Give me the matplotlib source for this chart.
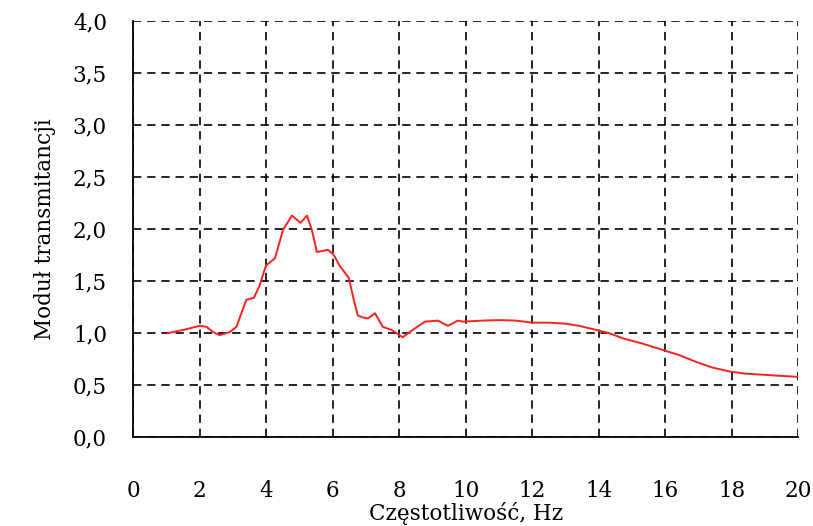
import matplotlib
matplotlib.use("Agg")
import matplotlib.pyplot as plt
import numpy as np

# frequency [Hz] and transmittance modulus
freq = [1.04, 1.5, 2.0, 2.2, 2.4, 2.6, 2.9, 3.1, 3.4, 3.63, 3.8, 3.99, 4.26,
        4.5, 4.77, 5.03, 5.22, 5.37, 5.52, 5.86, 6.03, 6.2, 6.48, 6.63, 6.75,
        6.9, 7.05, 7.27, 7.5, 7.77, 8.1, 8.4, 8.77, 9.16, 9.46, 9.76, 9.92,
        10.5, 11.0, 11.5, 12.0, 12.5, 13.0, 13.4, 13.8, 14.3, 14.72, 15.3,
        15.9, 16.4, 16.95, 17.4, 17.94, 18.4, 18.93, 19.4, 19.95]
modulus = [1.00, 1.03, 1.07, 1.06, 1.01, 0.98, 1.01, 1.06, 1.32, 1.34, 1.46,
           1.65, 1.72, 1.99, 2.13, 2.06, 2.13, 1.99, 1.78, 1.80, 1.75, 1.65,
           1.53, 1.32, 1.17, 1.15, 1.14, 1.19, 1.06, 1.03, 0.96, 1.03, 1.11,
           1.12, 1.07, 1.12, 1.11, 1.12, 1.125, 1.12, 1.10, 1.10, 1.09, 1.07,
           1.04, 1.00, 0.95, 0.90, 0.84, 0.79, 0.72, 0.67, 0.63, 0.61, 0.60,
           0.59, 0.58]

x_ticks = np.arange(0, 21, 2)
y_ticks = np.arange(0, 4.01, 0.5)

plt.rcParams["font.family"] = ["DejaVu Serif"]

fig = plt.figure(figsize=(8.13, 5.26), dpi=100)
ax = fig.add_axes([0.164, 0.169, 0.818, 0.791])

ax.plot(freq, modulus, color="#ff2020", linewidth=1.4)

ax.set_xlim(0, 20)
ax.set_ylim(0, 4)
ax.set_xticks(x_ticks)
ax.set_yticks(y_ticks)
ax.set_xticklabels([str(int(v)) for v in x_ticks])
ax.set_yticklabels([f"{v:.1f}".replace(".", ",") for v in y_ticks])
ax.grid(True, color="black", linestyle=(0, (5, 3.5)), linewidth=1.2)
ax.tick_params(direction="in", length=0, labelsize=15.5, pad=19)
ax.tick_params(axis="x", pad=31)

for side in ["top", "right"]:
    ax.spines[side].set_visible(False)
for side in ["left", "bottom"]:
    ax.spines[side].set_linewidth(1.3)

ax.set_xlabel("Częstotliwość, Hz", fontsize=15.5, labelpad=0)
ax.set_ylabel("Moduł transmitancji", fontsize=15.5, labelpad=12)

fig.savefig("out.png", dpi=100)
plt.close(fig)
